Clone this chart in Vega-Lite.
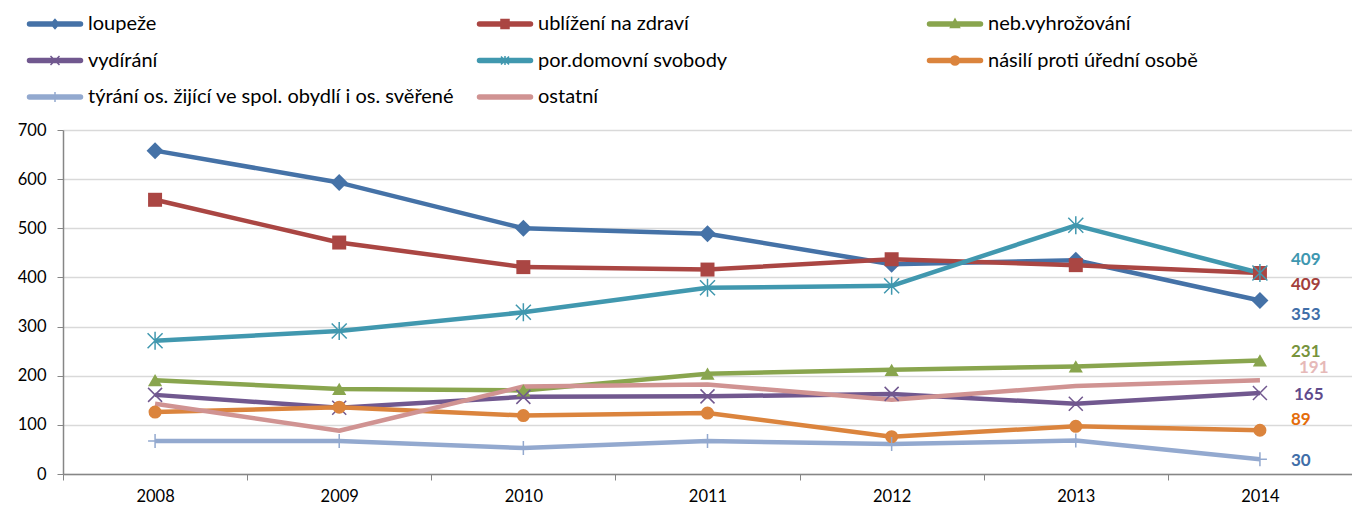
{
  "$schema": "https://vega.github.io/schema/vega-lite/v6.json",
  "autosize": "none",
  "width": 1289,
  "height": 344,
  "padding": {"left": 63, "top": 130, "right": 0, "bottom": 34},
  "background": "white",
  "config": {"font": "Lato", "view": {"stroke": null}},
  "data": {"values": [
    {"rok": "2008", "typ": "loupeže", "pocet": 658},
    {"rok": "2009", "typ": "loupeže", "pocet": 593},
    {"rok": "2010", "typ": "loupeže", "pocet": 500},
    {"rok": "2011", "typ": "loupeže", "pocet": 489},
    {"rok": "2012", "typ": "loupeže", "pocet": 427},
    {"rok": "2013", "typ": "loupeže", "pocet": 435},
    {"rok": "2014", "typ": "loupeže", "pocet": 353},
    {"rok": "2008", "typ": "ublížení na zdraví", "pocet": 558},
    {"rok": "2009", "typ": "ublížení na zdraví", "pocet": 471},
    {"rok": "2010", "typ": "ublížení na zdraví", "pocet": 421},
    {"rok": "2011", "typ": "ublížení na zdraví", "pocet": 416},
    {"rok": "2012", "typ": "ublížení na zdraví", "pocet": 437},
    {"rok": "2013", "typ": "ublížení na zdraví", "pocet": 425},
    {"rok": "2014", "typ": "ublížení na zdraví", "pocet": 409},
    {"rok": "2008", "typ": "neb.vyhrožování", "pocet": 191},
    {"rok": "2009", "typ": "neb.vyhrožování", "pocet": 173},
    {"rok": "2010", "typ": "neb.vyhrožování", "pocet": 170},
    {"rok": "2011", "typ": "neb.vyhrožování", "pocet": 204},
    {"rok": "2012", "typ": "neb.vyhrožování", "pocet": 212},
    {"rok": "2013", "typ": "neb.vyhrožování", "pocet": 219},
    {"rok": "2014", "typ": "neb.vyhrožování", "pocet": 231},
    {"rok": "2008", "typ": "vydírání", "pocet": 161},
    {"rok": "2009", "typ": "vydírání", "pocet": 135},
    {"rok": "2010", "typ": "vydírání", "pocet": 157},
    {"rok": "2011", "typ": "vydírání", "pocet": 158},
    {"rok": "2012", "typ": "vydírání", "pocet": 163},
    {"rok": "2013", "typ": "vydírání", "pocet": 143},
    {"rok": "2014", "typ": "vydírání", "pocet": 165},
    {"rok": "2008", "typ": "por.domovní svobody", "pocet": 271},
    {"rok": "2009", "typ": "por.domovní svobody", "pocet": 291},
    {"rok": "2010", "typ": "por.domovní svobody", "pocet": 329},
    {"rok": "2011", "typ": "por.domovní svobody", "pocet": 379},
    {"rok": "2012", "typ": "por.domovní svobody", "pocet": 383},
    {"rok": "2013", "typ": "por.domovní svobody", "pocet": 506},
    {"rok": "2014", "typ": "por.domovní svobody", "pocet": 409},
    {"rok": "2008", "typ": "násilí proti úřední osobě", "pocet": 126},
    {"rok": "2009", "typ": "násilí proti úřední osobě", "pocet": 136},
    {"rok": "2010", "typ": "násilí proti úřední osobě", "pocet": 119},
    {"rok": "2011", "typ": "násilí proti úřední osobě", "pocet": 124},
    {"rok": "2012", "typ": "násilí proti úřední osobě", "pocet": 76},
    {"rok": "2013", "typ": "násilí proti úřední osobě", "pocet": 97},
    {"rok": "2014", "typ": "násilí proti úřední osobě", "pocet": 89},
    {"rok": "2008", "typ": "týrání os. žijící ve spol. obydlí i os. svěřené", "pocet": 67},
    {"rok": "2009", "typ": "týrání os. žijící ve spol. obydlí i os. svěřené", "pocet": 67},
    {"rok": "2010", "typ": "týrání os. žijící ve spol. obydlí i os. svěřené", "pocet": 53},
    {"rok": "2011", "typ": "týrání os. žijící ve spol. obydlí i os. svěřené", "pocet": 67},
    {"rok": "2012", "typ": "týrání os. žijící ve spol. obydlí i os. svěřené", "pocet": 61},
    {"rok": "2013", "typ": "týrání os. žijící ve spol. obydlí i os. svěřené", "pocet": 68},
    {"rok": "2014", "typ": "týrání os. žijící ve spol. obydlí i os. svěřené", "pocet": 30},
    {"rok": "2008", "typ": "ostatní", "pocet": 143},
    {"rok": "2009", "typ": "ostatní", "pocet": 88},
    {"rok": "2010", "typ": "ostatní", "pocet": 178},
    {"rok": "2011", "typ": "ostatní", "pocet": 182},
    {"rok": "2012", "typ": "ostatní", "pocet": 151},
    {"rok": "2013", "typ": "ostatní", "pocet": 179},
    {"rok": "2014", "typ": "ostatní", "pocet": 191}
  ]},
  "encoding": {
    "x": {
      "field": "rok", "type": "ordinal", "bandPosition": 0.5,
      "scale": {"type": "band", "paddingInner": 0, "paddingOuter": 0},
      "axis": {"title": null, "labelAngle": 0, "tickBand": "extent", "grid": false,
        "domainColor": "#868686", "domainWidth": 1.5, "tickColor": "#868686", "tickSize": 6,
        "labelFontSize": 16.5, "labelPadding": 8, "labelColor": "#000000"}
    },
    "y": {
      "field": "pocet", "type": "quantitative",
      "scale": {"domain": [0, 700], "nice": false},
      "axis": {"title": null, "values": [0, 100, 200, 300, 400, 500, 600, 700],
        "gridColor": "#d9d9d9", "gridWidth": 1.5, "domainColor": "#868686", "domainWidth": 1.5,
        "tickColor": "#868686", "tickSize": 6, "labelFontSize": 16.5, "labelPadding": 11, "labelColor": "#000000"}
    }
  },
  "layer": [
    {
      "mark": {"type": "line", "strokeWidth": 4.5, "strokeJoin": "round"},
      "encoding": {
        "color": {
          "field": "typ", "type": "nominal",
          "scale": {
            "domain": ["loupeže", "ublížení na zdraví", "neb.vyhrožování", "vydírání", "por.domovní svobody", "násilí proti úřední osobě", "týrání os. žijící ve spol. obydlí i os. svěřené", "ostatní"],
            "range": ["#4572a7", "#aa4643", "#89a54e", "#71588f", "#4198af", "#db843d", "#93a9cf", "#d09392"]
          },
          "legend": {
            "orient": "none", "legendX": -37, "legendY": -117, "direction": "horizontal",
            "columns": 3, "gridAlign": "all", "columnPadding": 19, "rowPadding": 15.5,
            "title": null, "symbolSize": 400, "symbolStrokeWidth": 1.5, "labelOffset": 40,
            "labelFontSize": 20, "labelLimit": 600, "labelColor": "#000000",
            "encode": {"symbols": {"update": {
              "shape": {"signal": "datum.value === 'loupeže' ? 'M-0.75,-0.2L4.35,-0.2A0.2,0.2 0 0,1 4.35,0.2L-0.75,0.2A0.2,0.2 0 0,1 -0.75,-0.2ZM1.8,-0.45L2.2,0L1.8,0.45L1.4,0Z' : datum.value === 'ublížení na zdraví' ? 'M-0.75,-0.2L4.35,-0.2A0.2,0.2 0 0,1 4.35,0.2L-0.75,0.2A0.2,0.2 0 0,1 -0.75,-0.2ZM1.4,-0.45L2.2,-0.45L2.2,0.45L1.4,0.45Z' : datum.value === 'neb.vyhrožování' ? 'M-0.75,-0.2L4.35,-0.2A0.2,0.2 0 0,1 4.35,0.2L-0.75,0.2A0.2,0.2 0 0,1 -0.75,-0.2ZM1.8,-0.5L2.25,0.35L1.35,0.35Z' : datum.value === 'vydírání' ? 'M-0.75,-0.2L4.35,-0.2A0.2,0.2 0 0,1 4.35,0.2L-0.75,0.2A0.2,0.2 0 0,1 -0.75,-0.2ZM1.35,-0.45L2.25,0.45M1.35,0.45L2.25,-0.45' : datum.value === 'por.domovní svobody' ? 'M-0.75,-0.2L4.35,-0.2A0.2,0.2 0 0,1 4.35,0.2L-0.75,0.2A0.2,0.2 0 0,1 -0.75,-0.2ZM1.4,-0.4L2.2,0.4M1.4,0.4L2.2,-0.4M1.8,-0.45L1.8,0.45' : datum.value === 'násilí proti úřední osobě' ? 'M-0.75,-0.2L4.35,-0.2A0.2,0.2 0 0,1 4.35,0.2L-0.75,0.2A0.2,0.2 0 0,1 -0.75,-0.2ZM1.35,0A0.45,0.45 0 1,1 2.25,0A0.45,0.45 0 1,1 1.35,0Z' : datum.value === 'ostatní' ? 'M-0.75,-0.2L4.35,-0.2A0.2,0.2 0 0,1 4.35,0.2L-0.75,0.2A0.2,0.2 0 0,1 -0.75,-0.2Z' : 'M-0.75,-0.2L4.35,-0.2A0.2,0.2 0 0,1 4.35,0.2L-0.75,0.2A0.2,0.2 0 0,1 -0.75,-0.2ZM1.8,-0.5L1.8,0.5'"},
              "fill": {"scale": "color", "field": "value"},
              "stroke": {"scale": "color", "field": "value"},
              "strokeWidth": {"value": 1.5},
              "opacity": {"value": 1}
            }}}
          }
        }
      }
    },
    {"transform": [{"filter": "datum.typ === 'loupeže'"}],
     "mark": {"type": "point", "shape": "diamond", "size": 289, "filled": true, "opacity": 1, "color": "#4572a7"}},
    {"transform": [{"filter": "datum.typ === 'ublížení na zdraví'"}],
     "mark": {"type": "point", "shape": "square", "size": 196, "filled": true, "opacity": 1, "color": "#aa4643"}},
    {"transform": [{"filter": "datum.typ === 'neb.vyhrožování'"}],
     "mark": {"type": "point", "shape": "triangle-up", "size": 200, "filled": true, "opacity": 1, "color": "#89a54e"}},
    {"transform": [{"filter": "datum.typ === 'vydírání'"}],
     "mark": {"type": "point", "shape": "M-1,-1L1,1M-1,1L1,-1", "size": 196, "filled": false, "strokeWidth": 1.5, "opacity": 1, "color": "#71588f"}},
    {"transform": [{"filter": "datum.typ === 'por.domovní svobody'"}],
     "mark": {"type": "point", "shape": "M-1,-1L1,1M-1,1L1,-1M0,-1.2L0,1.2", "size": 225, "filled": false, "strokeWidth": 1.5, "opacity": 1, "color": "#4198af"}},
    {"transform": [{"filter": "datum.typ === 'násilí proti úřední osobě'"}],
     "mark": {"type": "point", "shape": "circle", "size": 170, "filled": true, "opacity": 1, "color": "#db843d"}},
    {"transform": [{"filter": "datum.typ === 'týrání os. žijící ve spol. obydlí i os. svěřené'"}],
     "mark": {"type": "point", "shape": "M0,-1L0,1M-1,0L1,0", "size": 196, "filled": false, "strokeWidth": 1.5, "opacity": 1, "color": "#93a9cf"}},
    {"transform": [{"filter": "datum.rok === '2014' && datum.typ === 'por.domovní svobody'"}],
     "mark": {"type": "text", "align": "left", "baseline": "middle", "dx": 31, "dy": -13, "fontSize": 17, "fontWeight": "bold", "color": "#3e97b0"},
     "encoding": {"text": {"field": "pocet"}}},
    {"transform": [{"filter": "datum.rok === '2014' && datum.typ === 'ublížení na zdraví'"}],
     "mark": {"type": "text", "align": "left", "baseline": "middle", "dx": 31, "dy": 12, "fontSize": 17, "fontWeight": "bold", "color": "#a33f3c"},
     "encoding": {"text": {"field": "pocet"}}},
    {"transform": [{"filter": "datum.rok === '2014' && datum.typ === 'loupeže'"}],
     "mark": {"type": "text", "align": "left", "baseline": "middle", "dx": 31, "dy": 14, "fontSize": 17, "fontWeight": "bold", "color": "#3f6ea8"},
     "encoding": {"text": {"field": "pocet"}}},
    {"transform": [{"filter": "datum.rok === '2014' && datum.typ === 'neb.vyhrožování'"}],
     "mark": {"type": "text", "align": "left", "baseline": "middle", "dx": 31, "dy": -8, "fontSize": 17, "fontWeight": "bold", "color": "#77933c"},
     "encoding": {"text": {"field": "pocet"}}},
    {"transform": [{"filter": "datum.rok === '2014' && datum.typ === 'ostatní'"}],
     "mark": {"type": "text", "align": "left", "baseline": "middle", "dx": 39, "dy": -12, "fontSize": 17, "fontWeight": "bold", "color": "#e6b9b8"},
     "encoding": {"text": {"field": "pocet"}}},
    {"transform": [{"filter": "datum.rok === '2014' && datum.typ === 'vydírání'"}],
     "mark": {"type": "text", "align": "left", "baseline": "middle", "dx": 34, "dy": 2, "fontSize": 17, "fontWeight": "bold", "color": "#5f4b8b"},
     "encoding": {"text": {"field": "pocet"}}},
    {"transform": [{"filter": "datum.rok === '2014' && datum.typ === 'násilí proti úřední osobě'"}],
     "mark": {"type": "text", "align": "left", "baseline": "middle", "dx": 31, "dy": -10, "fontSize": 17, "fontWeight": "bold", "color": "#e46c0a"},
     "encoding": {"text": {"field": "pocet"}}},
    {"transform": [{"filter": "datum.rok === '2014' && datum.typ === 'týrání os. žijící ve spol. obydlí i os. svěřené'"}],
     "mark": {"type": "text", "align": "left", "baseline": "middle", "dx": 31, "dy": 2, "fontSize": 17, "fontWeight": "bold", "color": "#3f6ea8"},
     "encoding": {"text": {"field": "pocet"}}}
  ]
}
